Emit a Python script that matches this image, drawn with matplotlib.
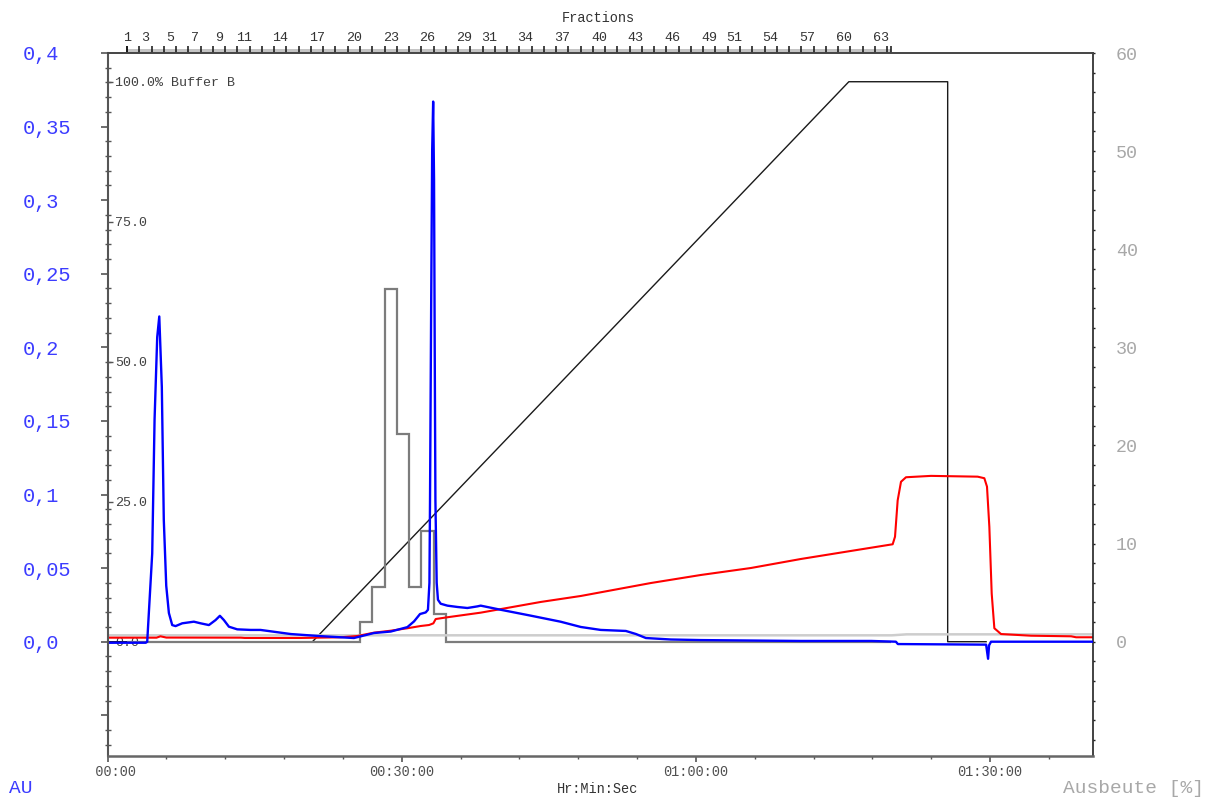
import numpy as np
import matplotlib
matplotlib.use("Agg")
import matplotlib.pyplot as plt
from matplotlib.ticker import FixedLocator
from matplotlib.patches import Rectangle

plt.rcParams['font.family'] = ['Liberation Mono', 'DejaVu Sans Mono']

# ---------------- data ----------------
# UV absorbance (AU), time in minutes
blue = [(0, -0.0007), (3.9, -0.0007), (4.05, 0.0), (4.56, 0.060), (4.80, 0.151), (5.07, 0.207),
        (5.28, 0.221), (5.54, 0.173), (5.74, 0.083), (5.99, 0.038), (6.26, 0.0195), (6.60, 0.0113),
        (6.94, 0.0106), (7.62, 0.0125), (8.81, 0.0136), (9.49, 0.0125), (10.34, 0.0113),
        (11.02, 0.0147), (11.46, 0.0176), (11.87, 0.0147), (12.38, 0.0102), (13.23, 0.0084),
        (14.59, 0.008), (15.6, 0.008), (18.7, 0.0052), (21.7, 0.0038), (23.78, 0.003),
        (25.13, 0.0025), (27.17, 0.0059), (28.88, 0.0069), (30.58, 0.0099), (31.26, 0.0138),
        (31.87, 0.0188), (32.45, 0.0199), (32.68, 0.0217), (32.83, 0.040), (32.89, 0.096),
        (33.01, 0.232), (33.11, 0.334), (33.21, 0.367), (33.30, 0.314), (33.37, 0.198),
        (33.44, 0.096), (33.57, 0.040), (33.70, 0.0285), (33.98, 0.0258), (34.66, 0.0245),
        (35.68, 0.0236), (36.70, 0.0229), (37.72, 0.024), (38.06, 0.0245), (40.1, 0.0217),
        (43.16, 0.0177), (46.2, 0.0136), (48.27, 0.010), (50.3, 0.008), (52.86, 0.0073),
        (53.9, 0.0052), (54.9, 0.0025), (57.45, 0.0015), (60.5, 0.0011), (70.7, 0.0005),
        (77.9, 0.0005), (80.4, 0.0), (80.6, -0.0016), (89.6, -0.002), (89.8, -0.0116),
        (89.9, -0.0025), (90.1, 0.0), (100.6, 0.0)]

# red trace (right axis units)
red = [(0, 0.41), (5.0, 0.41), (5.4, 0.55), (6.0, 0.42), (13.6, 0.41), (14.0, 0.38), (19.7, 0.38),
       (23.78, 0.45), (25.48, 0.58), (27.17, 0.92), (28.88, 1.12), (30.58, 1.37), (31.94, 1.6),
       (32.79, 1.7), (33.23, 1.87), (33.47, 2.31), (34.66, 2.49), (38.06, 2.96), (44.18, 4.05),
       (48.27, 4.66), (55.41, 5.98), (60.51, 6.80), (65.61, 7.51), (70.71, 8.43), (75.82, 9.25),
       (80.07, 9.93), (80.31, 10.7), (80.58, 14.4), (80.92, 16.3), (81.43, 16.76), (83.98, 16.9),
       (88.74, 16.82), (89.42, 16.66), (89.69, 15.8), (89.93, 11.7), (90.17, 4.9), (90.44, 1.37),
       (91.12, 0.78), (94.18, 0.61), (98.27, 0.55), (98.78, 0.45), (100.6, 0.45)]

# light grey trace (right axis units)
light = [(0, 0.65), (80.0, 0.65), (81.5, 0.75), (100.6, 0.75)]

# gradient, % Buffer B
gradient = [(0, 0), (20.9, 0), (75.6, 100), (85.68, 100), (85.68, 0), (89.6, 0)]

# fractions: first boundaries, width, count
frac_first_start = 1.95
frac_first_end = 2.0
frac_width = 1.25
frac_last_end = 79.9
n_regular = 62
frac_label_numbers = [1, 3, 5, 7, 9, 11, 14, 17, 20, 23, 26, 29, 31, 34, 37, 40, 43, 46, 49, 51,
                      54, 57, 60, 63]
yield_fractions = [21, 22, 23, 24, 25, 26, 27]
yield_values = [2.0, 5.6, 35.9, 21.2, 5.6, 11.3, 2.8]

x_ticks = [0, 30, 60, 90]
x_ticklabels = ["  00:00", "00:30:00", "01:00:00", "01:30:00"]
au_ticks = [-0.05, 0.0, 0.05, 0.1, 0.15, 0.2, 0.25, 0.3, 0.35, 0.4]
au_labels = ["", "0,0", "0,05", "0,1", "0,15", "0,2", "0,25", "0,3", "0,35", "0,4"]
right_ticks = [0, 10, 20, 30, 40, 50, 60]
grad_ticks = [0, 25, 50, 75, 100]
grad_labels = ["0.0", "25.0", "50.0", "75.0", "100.0% Buffer B"]

# ---------------- figure ----------------
W_PX, H_PX = 1217, 798
fig = plt.figure(figsize=(W_PX / 100, H_PX / 100), dpi=100)
x0, x1, y0, y1 = 107.5, 1093, 53, 756
rect = [x0 / W_PX, 1 - y1 / H_PX, (x1 - x0) / W_PX, (y1 - y0) / H_PX]
px = 72 / 100  # points per pixel

ax3 = fig.add_axes(rect)
ax2 = fig.add_axes(rect, sharex=ax3)
ax = fig.add_axes(rect, sharex=ax3)
ax3.set_zorder(1)
ax2.set_zorder(2)
ax.set_zorder(3)
ax2.patch.set_visible(False)
ax.patch.set_visible(False)

ax3.set_xlim(0, 100.5)

# gradient
gt, gv = zip(*gradient)
ax3.plot(gt, gv, color='#1a1a1a', lw=1.0)
ax3.set_ylim(-20.41, 105.13)
for s in ax3.spines.values():
    s.set_visible(False)
ax3.tick_params(axis='x', which='both', bottom=False, labelbottom=False)
ax3.yaxis.set_major_locator(FixedLocator(grad_ticks))
ax3.set_yticklabels(grad_labels)
ax3.tick_params(axis='y', direction='in', length=5 * px, width=1.0, color='#555555',
                pad=-7.5 * px, labelsize=9.6, labelcolor='#404040')
for lab in ax3.get_yticklabels():
    lab.set_horizontalalignment('left')

# right axis traces
edges = [frac_first_start, frac_first_end] + [frac_first_end + frac_width * (k + 1) for k in range(n_regular)] + [frac_last_end]
frac_yield = np.zeros(len(edges) - 1)
for n, v in zip(yield_fractions, yield_values):
    frac_yield[n - 1] = v
lt, lv = zip(*light)
ax2.plot(lt, lv, color='#cdcdcd', lw=1.8)
ax2.stairs(frac_yield, edges, baseline=0, color='#7c7c7c', lw=1.6)
rt, rv = zip(*red)
ax2.plot(rt, rv, color='#ff0000', lw=1.5)
ax2.set_ylim(-11.65, 60)
ax2.yaxis.tick_right()
ax2.yaxis.set_major_locator(FixedLocator(right_ticks))
ax2.yaxis.set_minor_locator(FixedLocator([v for v in range(-10, 60, 2) if v % 10 != 0 or v < 0]))
ax2.tick_params(axis='y', which='both', direction='out', length=2.5 * px, width=1.0,
                color='#222222', pad=20.5 * px, labelsize=13.2, labelcolor='#a8a8a8')
ax2.tick_params(axis='x', which='both', bottom=False, labelbottom=False)
for k, s in ax2.spines.items():
    s.set_visible(k == 'right')
ax2.spines['right'].set_color('#222222')
ax2.spines['right'].set_linewidth(1.2)

# blue UV trace
bt, bv = zip(*blue)
ax.plot(bt, bv, color='#0000ff', lw=1.7)
ax.set_ylim(-0.07766, 0.4)
ax.yaxis.set_major_locator(FixedLocator(au_ticks))
ax.set_yticklabels(au_labels)
ax.yaxis.set_minor_locator(FixedLocator([round(-0.07 + 0.01 * k, 2) for k in range(47)
                                         if round((-0.07 + 0.01 * k) * 100) % 5 != 0]))
ax.tick_params(axis='y', which='major', direction='out', length=7 * px, width=1.2,
               color='#555555', pad=77.5 * px, labelsize=14.6, labelcolor='#3c3cff')
ax.tick_params(axis='y', which='minor', direction='inout', length=6 * px, width=1.0,
               color='#555555')
for lab in ax.get_yticklabels():
    lab.set_horizontalalignment('left')
ax.spines['right'].set_visible(False)
ax.spines['left'].set_color('#555555')
ax.spines['left'].set_linewidth(1.5)
ax.spines['bottom'].set_color('#666666')
ax.spines['bottom'].set_linewidth(1.8)
ax.spines['top'].set_color('#444444')
ax.spines['top'].set_linewidth(1.2)

ax.xaxis.set_major_locator(FixedLocator(x_ticks))
ax.set_xticklabels(x_ticklabels)
ax.xaxis.set_minor_locator(FixedLocator([m for m in range(6, 101, 6) if m % 30 != 0]))
ax.tick_params(axis='x', which='major', direction='out', length=6 * px, width=1.2,
               color='#555555', pad=2.5 * px, labelsize=9.8, labelcolor='#505050')
ax.tick_params(axis='x', which='minor', direction='out', length=3 * px, width=1.0,
               color='#555555')

# fractions axis on top
sec = ax.secondary_xaxis('top')
sec.xaxis.set_major_locator(FixedLocator(edges))
sec.xaxis.set_major_formatter(plt.NullFormatter())
centers = [(edges[n - 1] + edges[n]) / 2 for n in frac_label_numbers]
sec.xaxis.set_minor_locator(FixedLocator(centers))
sec.xaxis.set_minor_formatter(plt.FixedFormatter([str(n) for n in frac_label_numbers]))
sec.tick_params(axis='x', which='major', direction='out', length=7 * px, width=1.1,
                color='#111111')
sec.tick_params(axis='x', which='minor', length=0, pad=8.5 * px, labelsize=9.6,
                labelcolor='#333333')
sec.spines['top'].set_color('#444444')
sec.spines['top'].set_linewidth(1.2)
band = Rectangle((frac_first_end, 1.0), frac_last_end - frac_first_end, 3.8 / (y1 - y0),
                 transform=ax.get_xaxis_transform(), clip_on=False, facecolor='#c4c4c4',
                 edgecolor='none', zorder=-1)
ax.add_patch(band)

# texts
fig.text(598 / W_PX, 1 - 18 / H_PX, "Fractions", ha='center', va='center', fontsize=9.8,
         color='#333333')
fig.text(598 / W_PX, 1 - 789 / H_PX, "Hr:Min:Sec", ha='center', va='center', fontsize=9.8,
         color='#333333')
fig.text(9 / W_PX, 1 - 797 / H_PX, "AU", ha='left', va='bottom', fontsize=14,
         color='#3c3cff')
fig.text(1063 / W_PX, 1 - 797 / H_PX, "Ausbeute [%]", ha='left', va='bottom', fontsize=14,
         color='#a8a8a8')

fig.savefig("out.png", dpi=100)
